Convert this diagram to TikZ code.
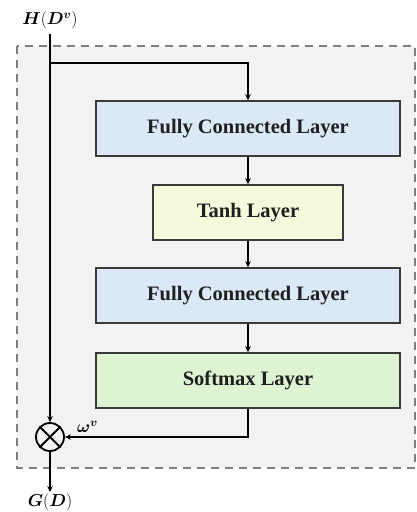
\documentclass[tikz,border=0pt]{standalone}
\usepackage{fontspec}
\usepackage{amsmath,bm}
\setmainfont{Liberation Serif}
\usetikzlibrary{arrows.meta}
\definecolor{bgc}{HTML}{F2F2F2}
\definecolor{dashc}{HTML}{7F7F7F}
\definecolor{fcc}{HTML}{DAE8F8}
\definecolor{tanhc}{HTML}{F6F8DC}
\definecolor{smc}{HTML}{DDF3D1}
\definecolor{edgec}{HTML}{3A3A3A}
\tikzset{
  layer/.style={draw=edgec, line width=1.5pt, minimum height=55pt, inner sep=0pt,
    font=\fontsize{20.5}{22}\selectfont\bfseries, text=black!88},
  conn/.style={line width=1.8pt, -{Stealth[length=6pt,width=5.5pt]}},
  lbl/.style={font=\fontsize{17}{20}\selectfont, inner sep=0pt}
}
\begin{document}
\begin{tikzpicture}[x=1pt,y=-1pt]
\useasboundingbox (0,0) rectangle (416,512);
\fill[bgc] (17,46) rectangle (415,468);
\draw[dashc, line width=2.2pt, dash pattern=on 8pt off 6pt] (17,46) rectangle (415,468);
\node[layer, fill=fcc, minimum width=304pt] (fc1) at (248,128.5) {Fully Connected Layer};
\node[layer, fill=tanhc, minimum width=190pt] (tanh) at (248,212.5) {Tanh Layer};
\node[layer, fill=fcc, minimum width=304pt] (fc2) at (248,295.5) {Fully Connected Layer};
\node[layer, fill=smc, minimum width=304pt] (sm) at (248,380.5) {Softmax Layer};
\node[draw=black, line width=1.8pt, circle, minimum size=28pt, inner sep=0pt] (ot) at (50,437) {};
\draw[line width=1.8pt] (ot.north east) -- (ot.south west) (ot.north west) -- (ot.south east);
\coordinate (in) at (50,34);
\coordinate (split) at (50,63);
\coordinate (out) at (50,492);
\node[lbl] (hlab) at (50,20) {$\bm{H}(\bm{D}^{\bm{v}})$};
\node[lbl] (glab) at (50,502) {$\bm{G}(\bm{D})$};
\node[lbl, anchor=south west] (wlab) at (77,433) {$\bm{\omega}^{\bm{v}}$};
\draw[conn] (in) -- (ot.north);
\draw[conn] (split) -| (fc1.north);
\draw[conn] (fc1) -- (tanh);
\draw[conn] (tanh) -- (fc2);
\draw[conn] (fc2) -- (sm);
\draw[conn] (sm.south) |- (ot.east);
\draw[conn] (ot.south) -- (out);
\end{tikzpicture}
\end{document}
